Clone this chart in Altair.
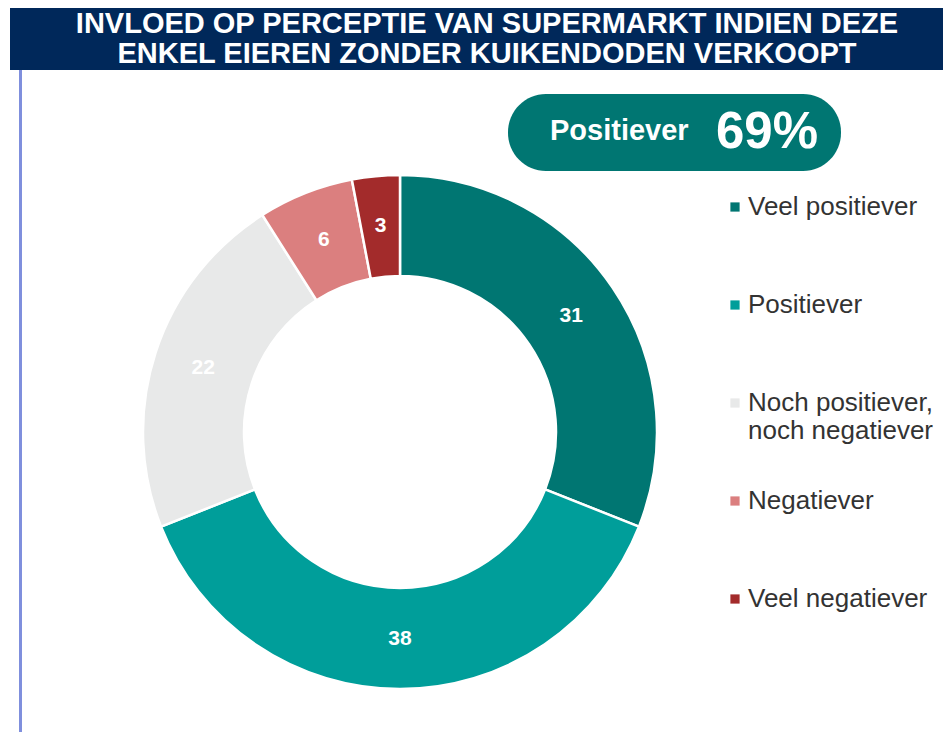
import altair as alt
import pandas as pd

categories = ["Veel positiever", "Positiever", "Noch positiever, noch negatiever", "Negatiever", "Veel negatiever"]
values = [31, 38, 22, 6, 3]
colors = ["#007672", "#009E9A", "#E8E9E9", "#DB7F7F", "#A32B2B"]
title_lines = ["INVLOED OP PERCEPTIE VAN SUPERMARKT INDIEN DEZE", "ENKEL EIEREN ZONDER KUIKENDODEN VERKOOPT"]
badge_label = "Positiever"
badge_value = "69%"
legend_wrap = ["Noch positiever,", "noch negatiever"]

df = pd.DataFrame({"cat": categories, "value": values, "idx": list(range(len(values)))})

FONT = "Liberation Sans"
CX, CY = 392, 424
LEG_FS = 26

color_scale = alt.Scale(domain=categories, range=colors)

arcs = alt.Chart(df).mark_arc(outerRadius=257, innerRadius=156, stroke="white", strokeWidth=2.5).encode(
    theta=alt.Theta("value:Q", stack=True),
    color=alt.Color("cat:N", scale=color_scale, sort=categories,
                    legend=alt.Legend(
                        title=None, orient="none", legendX=714, legendY=186,
                        symbolType="square", symbolSize=85, symbolStrokeWidth=0,
                        labelFontSize=LEG_FS, labelFont=FONT, labelColor="#333333",
                        labelLimit=400, labelOffset=0, rowPadding=72, padding=0,
                        labelBaseline="middle",
                        labelExpr="datum.label == 'Noch positiever, noch negatiever' ? 'Noch positiever,' : datum.label",
                    )),
    order=alt.Order("idx:Q"),
    x=alt.value(CX), y=alt.value(CY),
)

wrap_line = alt.Chart(pd.DataFrame({"t": [legend_wrap[1]]})).mark_text(
    font=FONT, fontSize=LEG_FS, color="#333333", align="left", baseline="middle"
).encode(text="t:N", x=alt.value(740), y=alt.value(423))

labels = alt.Chart(df).mark_text(radius=207, fontSize=21, fontWeight="bold", font=FONT, color="white").encode(
    theta=alt.Theta("value:Q", stack=True),
    order=alt.Order("idx:Q"),
    text=alt.Text("value:Q"),
    x=alt.value(CX), y=alt.value(CY),
)

header_df = pd.DataFrame({"t": [0]})
header = alt.Chart(header_df).mark_rect(color="#00285A").encode(
    x=alt.value(2), x2=alt.value(935), y=alt.value(0), y2=alt.value(62)
)
title1 = alt.Chart(pd.DataFrame({"t": [title_lines[0]]})).mark_text(
    font=FONT, fontSize=29, fontWeight="bold", color="white", align="center", baseline="alphabetic"
).encode(text="t:N", x=alt.value(479), y=alt.value(25))
title2 = alt.Chart(pd.DataFrame({"t": [title_lines[1]]})).mark_text(
    font=FONT, fontSize=29, fontWeight="bold", color="white", align="center", baseline="alphabetic"
).encode(text="t:N", x=alt.value(479), y=alt.value(55))

leftline = alt.Chart(header_df).mark_rule(color="#7F8FDD", strokeWidth=3).encode(
    x=alt.value(12.5), y=alt.value(62), y2=alt.value(724)
)

pill = alt.Chart(header_df).mark_rect(color="#007672", cornerRadius=38).encode(
    x=alt.value(500), x2=alt.value(833), y=alt.value(86), y2=alt.value(163)
)
pill_lbl = alt.Chart(pd.DataFrame({"t": [badge_label]})).mark_text(
    font=FONT, fontSize=29, fontWeight="bold", color="white", align="left", baseline="alphabetic"
).encode(text="t:N", x=alt.value(542), y=alt.value(132))
pill_val = alt.Chart(pd.DataFrame({"t": [badge_value]})).mark_text(
    font=FONT, fontSize=51, fontWeight="bold", color="white", align="left", baseline="alphabetic"
).encode(text="t:N", x=alt.value(708), y=alt.value(140))

chart = alt.layer(header, title1, title2, leftline, pill, pill_lbl, pill_val, arcs, labels, wrap_line).properties(
    width=935, height=724, padding=0, autosize=alt.AutoSizeParams(type="none")
).configure_view(stroke=None)

chart.save("out.html", embed_options={"renderer": "svg", "actions": False})
